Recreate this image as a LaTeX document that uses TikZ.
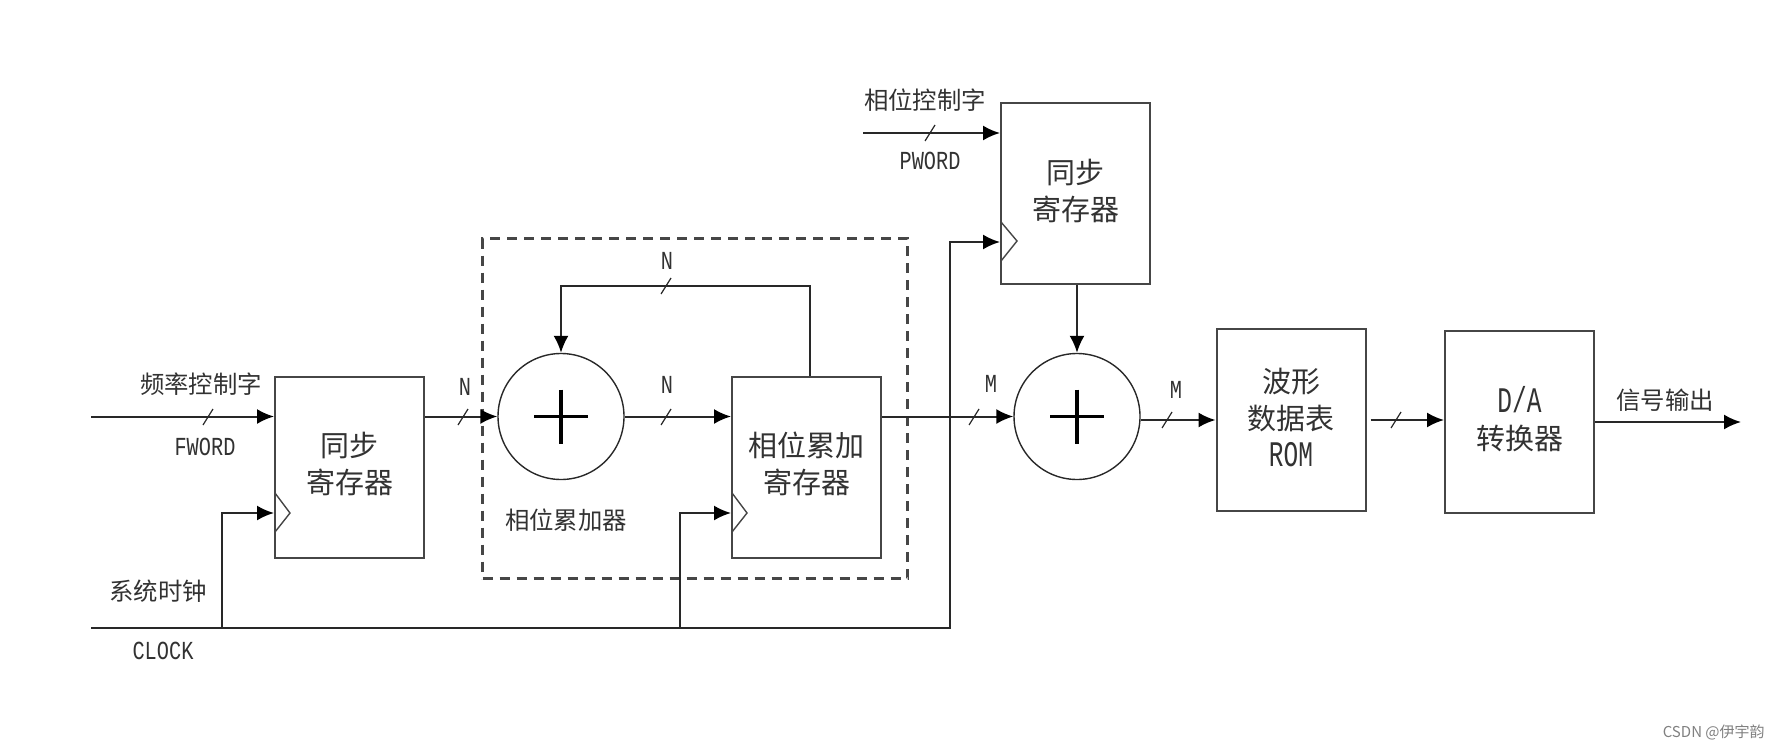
\documentclass[tikz,border=0pt]{standalone}
\usepackage{fontspec}
\usepackage{tikz}
\usetikzlibrary{arrows.meta}
\setmainfont{Noto Sans CJK SC}
\newfontfamily\latinsmall[FakeStretch=0.78]{Liberation Mono}
\newfontfamily\latinbig[FakeStretch=0.68]{Liberation Mono}
\definecolor{cLine}{RGB}{40,40,40}
\definecolor{cBox}{RGB}{70,70,70}
\definecolor{cText}{RGB}{50,50,50}
\newcommand{\boxfont}{\fontsize{14.5}{18.5}\selectfont}
\newcommand{\cnfont}{\fontsize{12.2}{14}\selectfont}
\newcommand{\wordfont}{\fontsize{13}{14}\latinsmall\selectfont}
\newcommand{\romfont}{\fontsize{18}{18.5}\latinbig\selectfont}
\tikzset{
  regbox/.style={draw=cBox,line width=1pt,minimum width=74.5pt,minimum height=90.5pt,inner sep=0pt,align=center,font=\boxfont,text=cText},
  addnode/.style={draw=cLine,circle,line width=0.7pt,minimum size=63pt,inner sep=0pt},
  grouprect/.style={draw=cBox,line width=1.1pt,dash pattern=on 5pt off 3.5pt,minimum width=212.5pt,minimum height=170pt,inner sep=0pt},
  sig/.style={draw=cLine,line width=1pt,-{Latex[length=8.5pt,width=7.5pt,color=black]}},
  clkmark/.style={draw=cBox,line width=0.7pt},
  tickline/.style={draw=cLine,line width=0.6pt},
  plusline/.style={draw=black,line width=1.7pt},
  cnlabel/.style={font=\cnfont,text=cText,inner sep=0pt},
  wordlabel/.style={font=\wordfont,text=cText,inner sep=0pt},
}
\begin{document}
\begin{tikzpicture}[x=0.5pt,y=-0.5pt]
\useasboundingbox (0,0) rectangle (1780,749);
\node[grouprect] (accgroup) at (695,408.5) {};
\node[regbox] (freqreg) at (349.5,467) {};
\node[regbox] (accreg) at (806.5,467) {};
\node[regbox] (phasereg) at (1075.5,193.5) {};
\node[regbox,minimum height=91pt] (romreg) at (1291,420) {};
\node[regbox,minimum height=91pt] (dacreg) at (1519.5,421.5) {};
\node[font=\boxfont,text=cText,align=center,inner sep=0pt] (freqtext) at (349.5,464) {同步\\寄存器};
\node[font=\boxfont,text=cText,align=center,inner sep=0pt] (acctext) at (806.5,464) {相位累加\\寄存器};
\node[font=\boxfont,text=cText,align=center,inner sep=0pt] (phasetext) at (1075.5,191) {同步\\寄存器};
\node[font=\boxfont,text=cText,align=center,inner sep=0pt] (romtext) at (1291,417) {波形\\数据表\\{\romfont ROM}};
\node[font=\boxfont,text=cText,align=center,inner sep=0pt] (dactext) at (1519.5,419) {{\romfont D/A}\\转换器};
\node[addnode] (accadd) at (561,416.5) {};
\node[addnode] (phaseadd) at (1077,416.5) {};
\draw[plusline] (534,416.5) -- (588,416.5);
\draw[plusline] (561,389.5) -- (561,443.5);
\draw[plusline] (1050,416.5) -- (1104,416.5);
\draw[plusline] (1077,389.5) -- (1077,443.5);
\coordinate (fwordin) at (91,416.5);
\coordinate (pwordin) at (863,133);
\coordinate (clkin) at (91,628);
\coordinate (clkfreq) at (222,628);
\coordinate (clkfreqtop) at (222,513);
\coordinate (clkacc) at (680,628);
\coordinate (clkacctop) at (680,513);
\coordinate (clkturn) at (950,628);
\coordinate (clkphase) at (950,242);
\coordinate (fbturn) at (810,286);
\coordinate (sigout) at (1741,422);
\draw[sig] (fwordin) -- (fwordin -| freqreg.west);
\draw[sig] (pwordin) -- (pwordin -| phasereg.west);
\draw[sig] (accadd.west -| freqreg.east) -- (accadd.west);
\draw[sig] (accadd.east) -- (accadd.east -| accreg.west);
\draw[sig] (fbturn |- accreg.north) -- (fbturn) -- (fbturn -| accadd.north) -- (accadd.north);
\draw[sig] (phaseadd.west -| accreg.east) -- (phaseadd.west);
\draw[sig] (phasereg.south -| phaseadd.north) -- (phaseadd.north);
\draw[sig] (romreg.west -| phaseadd.east) -- (romreg.west);
\draw[sig,shorten <=2pt] (romreg.east) -- (romreg.east -| dacreg.west);
\draw[sig] (sigout -| dacreg.east) -- (sigout);
\draw[sig] (clkin) -- (clkturn) -- (clkphase) -- (clkphase -| phasereg.west);
\draw[sig] (clkfreq) -- (clkfreqtop) -- (clkfreqtop -| freqreg.west);
\draw[sig] (clkacc) -- (clkacctop) -- (clkacctop -| accreg.west);
\draw[clkmark] (275,493) -- (290,513) -- (275,532);
\draw[clkmark] (732,493) -- (747,513) -- (732,532);
\draw[clkmark] (1001,222) -- (1017,241) -- (1001,261);
\draw[tickline] (203,425) -- (213,409);
\draw[tickline] (458,425) -- (468,409);
\draw[tickline] (661,294) -- (671,278);
\draw[tickline] (661,425) -- (671,409);
\draw[tickline] (969,425) -- (979,409);
\draw[tickline] (1162,428) -- (1172,412);
\draw[tickline] (1391,428) -- (1401,412);
\draw[tickline] (925,141) -- (935,125);
\node[cnlabel] (fwordtitle) at (201,384) {频率控制字};
\node[wordlabel] (fwordname) at (205,447) {FWORD};
\node[cnlabel] (clktitle) at (158,591) {系统时钟};
\node[wordlabel] (clkname) at (163,651) {CLOCK};
\node[cnlabel] (pwordtitle) at (925,100) {相位控制字};
\node[wordlabel] (pwordname) at (930,161) {PWORD};
\node[cnlabel] (accname) at (566,520) {相位累加器};
\node[cnlabel] (outname) at (1665,400) {信号输出};
\node[wordlabel] (nfreq) at (465,387) {N};
\node[wordlabel] (nback) at (667,261) {N};
\node[wordlabel] (nacc) at (667,385) {N};
\node[wordlabel] (maccout) at (991,384) {M};
\node[wordlabel] (maddout) at (1176,390) {M};
\node[font=\fontsize{7.5}{8}\selectfont,text=gray,inner sep=0pt,anchor=east] (csdnmark) at (1765,732) {CSDN @伊宇韵};
\end{tikzpicture}
\end{document}
